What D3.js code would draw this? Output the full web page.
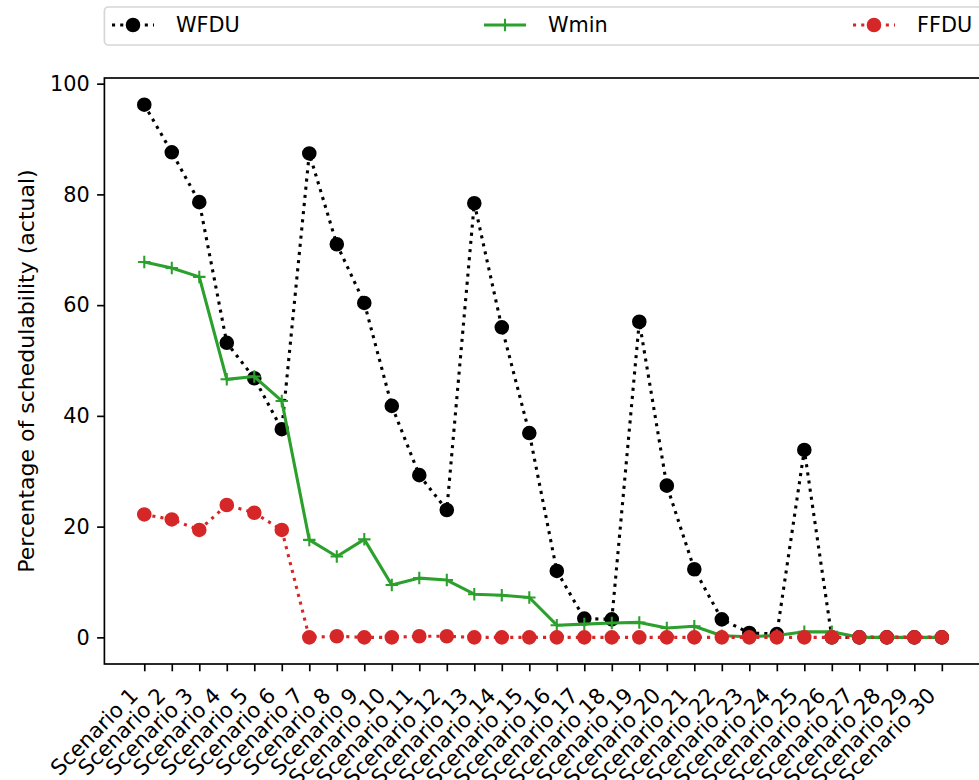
<!DOCTYPE html>
<html>
<head>
<meta charset="utf-8">
<script src="https://cdn.jsdelivr.net/npm/d3@7"></script>
<style>
  body { margin: 0; background: #fff; }
  svg { font-family: "DejaVu Sans", sans-serif; }
</style>
</head>
<body>
<svg id="chart" width="979" height="780"></svg>
<script>
// data
const scenarios = d3.range(1, 31).map(i => `Scenario ${i}`);
const wfdu = [96.2, 87.6, 78.6, 53.2, 46.8, 37.6, 87.4, 71.0, 60.4, 41.8,
  29.3, 23.0, 78.4, 56.0, 36.9, 12.0, 3.4, 3.25, 57.0, 27.4,
  12.3, 3.25, 0.8, 0.6, 33.85, 0, 0, 0, 0, 0];
const wmin = [67.8, 66.7, 65.1, 46.6, 47.1, 42.7, 17.6, 14.6, 17.7, 9.45,
  10.7, 10.35, 7.8, 7.6, 7.2, 2.2, 2.4, 2.6, 2.7, 1.7,
  2.0, 0.3, 0.1, 0.35, 1.0, 1.0, 0, 0, 0, 0];
const ffdu = [22.2, 21.3, 19.4, 23.9, 22.5, 19.4, 0, 0.2, 0, 0,
  0.2, 0.2, 0, 0, 0, 0, 0, 0, 0, 0,
  0, 0, 0, 0, 0, 0, 0, 0, 0, 0];
const yTicks = [0, 20, 40, 60, 80, 100];

const series = [
  { name: 'WFDU', values: wfdu, color: '#000000', dotted: true, marker: 'circle' },
  { name: 'Wmin', values: wmin, color: '#2ca02c', dotted: false, marker: 'plus' },
  { name: 'FFDU', values: ffdu, color: '#d62728', dotted: true, marker: 'circle' }
];

const svg = d3.select('#chart');
const fs = 20.8;
const plotL = 104.4, plotR = 981.7, plotT = 78, plotB = 664;

const x = d3.scaleLinear().domain([-0.45, 31.45]).range([plotL, plotR]);
const y = d3.scaleLinear().domain([-4.81, 101.02]).range([plotB, plotT]);

// y axis
const yAxis = svg.append('g')
  .attr('transform', `translate(${plotL},0)`)
  .call(d3.axisLeft(y).tickValues(yTicks).tickSize(7.3).tickPadding(7.3).tickFormat(d3.format('d')));
yAxis.select('.domain').remove();
yAxis.selectAll('line').attr('stroke-width', 1.67);
yAxis.selectAll('text').attr('font-size', fs).attr('font-family', 'DejaVu Sans').attr('fill', '#000');

// x axis
const xAxis = svg.append('g')
  .attr('transform', `translate(0,${plotB})`)
  .call(d3.axisBottom(x).tickValues(d3.range(1, 31)).tickSize(7.3).tickFormat(''));
xAxis.select('.domain').remove();
xAxis.selectAll('line').attr('stroke-width', 1.67);

svg.append('g').selectAll('text')
  .data(scenarios)
  .join('text')
  .attr('transform', (d, i) => `translate(${x(i + 1) - 5},697) rotate(-45)`)
  .attr('text-anchor', 'end')
  .attr('font-size', 21.3)
  .text(d => d);

// frame
svg.append('rect')
  .attr('x', plotL).attr('y', plotT)
  .attr('width', plotR - plotL).attr('height', plotB - plotT)
  .attr('fill', 'none').attr('stroke', '#000').attr('stroke-width', 1.67);

svg.append('text')
  .attr('transform', `translate(34,${(plotT + plotB) / 2}) rotate(-90)`)
  .attr('text-anchor', 'middle')
  .attr('font-size', 22)
  .text('Percentage of schedulability (actual)');

const line = d3.line().x((d, i) => x(i + 1)).y(d => y(d));

function drawMarker(g, s, cx, cy) {
  if (s.marker === 'circle') {
    g.append('circle').attr('cx', cx).attr('cy', cy).attr('r', 6.25)
      .attr('fill', s.color).attr('stroke', s.color).attr('stroke-width', 2.08);
  } else {
    g.append('path')
      .attr('d', `M${cx - 6.25},${cy}H${cx + 6.25}M${cx},${cy - 6.25}V${cy + 6.25}`)
      .attr('stroke', s.color).attr('stroke-width', 2.08).attr('fill', 'none');
  }
}

const plot = svg.append('g');
series.forEach(s => {
  const g = plot.append('g');
  g.append('path')
    .datum(s.values)
    .attr('d', line)
    .attr('fill', 'none')
    .attr('stroke', s.color)
    .attr('stroke-width', 3.1)
    .attr('stroke-dasharray', s.dotted ? '3.1,5.1' : null)
    .attr('stroke-linejoin', 'round');
  s.values.forEach((v, i) => drawMarker(g, s, x(i + 1), y(v)));
});

// legend
const legend = svg.append('g');
legend.append('rect')
  .attr('x', plotL).attr('y', 7)
  .attr('width', plotR - plotL).attr('height', 38)
  .attr('rx', 4)
  .attr('fill', '#fff').attr('stroke', '#d6d6d6').attr('stroke-width', 1.67);
const colX = [112, 484, 853];
series.forEach((s, k) => {
  const g = legend.append('g');
  const x0 = colX[k], ly = 25;
  g.append('line')
    .attr('x1', x0).attr('x2', x0 + 42).attr('y1', ly).attr('y2', ly)
    .attr('stroke', s.color).attr('stroke-width', 3.1)
    .attr('stroke-dasharray', s.dotted ? '3.1,5.1' : null);
  drawMarker(g, s, x0 + 21, ly);
  g.append('text')
    .attr('x', x0 + 64).attr('y', ly)
    .attr('dy', '0.36em')
    .attr('font-size', fs)
    .text(s.name);
});
</script>
</body>
</html>
